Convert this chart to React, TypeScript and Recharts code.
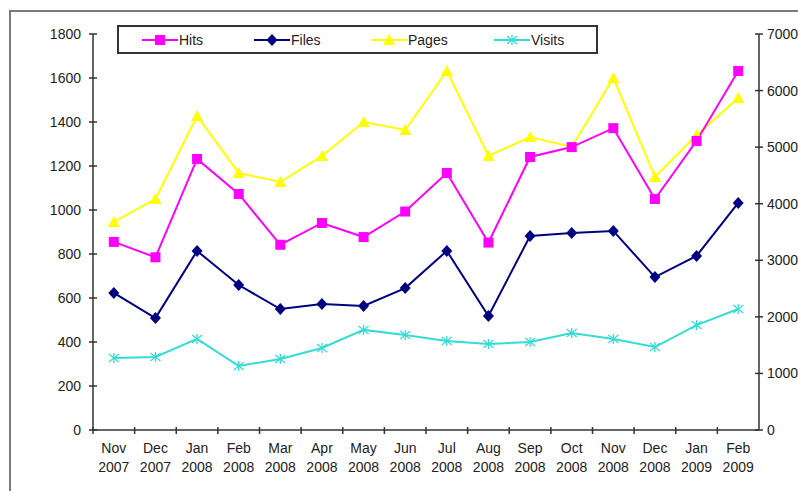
import React from "react";
import { LineChart, Line, XAxis, YAxis } from "recharts";

// monthly web stats, Nov 2007 - Feb 2009
const months = ["Nov", "Dec", "Jan", "Feb", "Mar", "Apr", "May", "Jun", "Jul", "Aug", "Sep", "Oct", "Nov", "Dec", "Jan", "Feb"];
const years = ["2007", "2007", "2008", "2008", "2008", "2008", "2008", "2008", "2008", "2008", "2008", "2008", "2008", "2008", "2009", "2009"];

const hits = [855, 785, 1232, 1073, 842, 941, 877, 993, 1168, 852, 1241, 1286, 1372, 1050, 1314, 1632];
const files = [623, 509, 814, 659, 550, 573, 564, 645, 814, 518, 882, 895, 905, 695, 791, 1032];
// pages are plotted against the right-hand axis
const pages = [3677, 4083, 5551, 4543, 4384, 4844, 5445, 5303, 6346, 4844, 5179, 5003, 6222, 4472, 5215, 5869];
const visits = [327, 332, 414, 291, 323, 373, 455, 432, 405, 391, 400, 441, 414, 377, 477, 550];

const leftTicks = [0, 200, 400, 600, 800, 1000, 1200, 1400, 1600, 1800];
const rightTicks = [0, 1000, 2000, 3000, 4000, 5000, 6000, 7000];

const data = months.map((m, i) => ({
  key: `${m} ${years[i]}`,
  month: m,
  year: years[i],
  hits: hits[i],
  files: files[i],
  pages: pages[i],
  visits: visits[i],
}));

const W = 798;
const H = 491;
const PLOT_LEFT = 93;
const PLOT_RIGHT = 759;
const PLOT_TOP = 34;
const PLOT_BOTTOM = 430;
const BAND = (PLOT_RIGHT - PLOT_LEFT) / months.length;

const FONT = "Liberation Sans, Arial, sans-serif";
const TEXT = "#222";
const AXIS = "#333";

const C_HITS = "#ff00ff";
const C_FILES = "#000080";
const C_PAGES = "#ffff00";
const C_VISITS = "#33dcd4";

const Square = ({ cx, cy, fill }: any) =>
  cx == null ? null : <rect x={cx - 5} y={cy - 5} width={10} height={10} fill={fill} />;

const Diamond = ({ cx, cy, fill }: any) =>
  cx == null ? null : (
    <polygon points={`${cx},${cy - 6} ${cx + 5.5},${cy} ${cx},${cy + 6} ${cx - 5.5},${cy}`} fill={fill} />
  );

const Triangle = ({ cx, cy, fill }: any) =>
  cx == null ? null : (
    <polygon points={`${cx},${cy - 6} ${cx + 6},${cy + 5} ${cx - 6},${cy + 5}`} fill={fill} />
  );

const Star = ({ cx, cy, stroke }: any) =>
  cx == null ? null : (
    <g stroke={stroke} strokeWidth={1.3}>
      <line x1={cx - 5} y1={cy - 4} x2={cx + 5} y2={cy + 4} />
      <line x1={cx - 5} y1={cy + 4} x2={cx + 5} y2={cy - 4} />
      <line x1={cx} y1={cy - 5} x2={cx} y2={cy + 5} />
    </g>
  );

const LeftTick = ({ x, y, payload }: any) => (
  <g>
    <line x1={x - 4} y1={y} x2={x + 4} y2={y} stroke={AXIS} strokeWidth={1.5} />
    <text x={x - 12} y={y} dy={5} textAnchor="end" fontSize={14} fontFamily={FONT} fill={TEXT}>
      {payload.value}
    </text>
  </g>
);

const RightTick = ({ x, y, payload }: any) => (
  <g>
    <line x1={x - 4} y1={y} x2={x + 4} y2={y} stroke={AXIS} strokeWidth={1.5} />
    <text x={x + 8} y={y} dy={5} textAnchor="start" fontSize={14} fontFamily={FONT} fill={TEXT}>
      {payload.value}
    </text>
  </g>
);

const MonthTick = ({ x, y, index }: any) => {
  const d = data[index];
  const bx = x - BAND / 2;
  return (
    <g>
      <line x1={bx} y1={y - 3} x2={bx} y2={y + 4} stroke={AXIS} strokeWidth={1.5} />
      <text x={x} y={y + 23} textAnchor="middle" fontSize={14} fontFamily={FONT} fill={TEXT}>
        {d.month}
      </text>
      <text x={x} y={y + 42} textAnchor="middle" fontSize={14} fontFamily={FONT} fill={TEXT}>
        {d.year}
      </text>
    </g>
  );
};

const legendItems = [
  { name: "Hits", color: C_HITS, marker: "square", left: 143 },
  { name: "Files", color: C_FILES, marker: "diamond", left: 255 },
  { name: "Pages", color: C_PAGES, marker: "triangle", left: 372 },
  { name: "Visits", color: C_VISITS, marker: "star", left: 495 },
];

// legend box sits inside the plot area, over the top of the lines
const LegendBox = () => (
  <svg width={482} height={30} style={{ position: "absolute", left: 117, top: 25 }}>
    <rect x={1} y={1} width={479} height={27} fill="#fff" stroke="#333" strokeWidth={2} />
    {legendItems.map((it) => {
      const lx = it.left - 118;
      const cx = lx + 18;
      const cy = 15;
      return (
        <g key={it.name}>
          <line x1={lx} y1={cy} x2={lx + 36} y2={cy} stroke={it.color} strokeWidth={2} />
          {it.marker === "square" && <Square cx={cx} cy={cy} fill={it.color} />}
          {it.marker === "diamond" && <Diamond cx={cx} cy={cy} fill={it.color} />}
          {it.marker === "triangle" && <Triangle cx={cx} cy={cy} fill={it.color} />}
          {it.marker === "star" && <Star cx={cx} cy={cy} stroke={it.color} />}
          <text x={lx + 37} y={cy + 5} fontSize={14} fontFamily={FONT} fill={TEXT}>
            {it.name}
          </text>
        </g>
      );
    })}
  </svg>
);

export default function App() {
  return (
    <div style={{ position: "absolute", left: 0, top: 0, width: W, height: H, overflow: "hidden", background: "#fff" }}>
      <div
        style={{
          position: "absolute",
          left: 9,
          top: 10,
          width: 900,
          height: 600,
          border: "2px solid #7a7a7a",
        }}
      />
      <div style={{ position: "absolute", left: 0, top: 0 }}>
        <LineChart
          width={W}
          height={H}
          data={data}
          margin={{ top: PLOT_TOP, right: W - PLOT_RIGHT - 39, bottom: H - PLOT_BOTTOM - 45, left: PLOT_LEFT - 60 }}
        >
          <XAxis
            dataKey="key"
            scale="band"
            interval={0}
            height={45}
            tickLine={false}
            tickSize={0}
            tickMargin={0}
            axisLine={{ stroke: AXIS, strokeWidth: 1.5 }}
            tick={<MonthTick />}
          />
          <YAxis
            yAxisId="left"
            width={60}
            domain={[0, 1800]}
            ticks={leftTicks}
            interval={0}
            tickLine={false}
            tickSize={0}
            tickMargin={0}
            axisLine={{ stroke: AXIS, strokeWidth: 1.5 }}
            tick={<LeftTick />}
          />
          <YAxis
            yAxisId="right"
            orientation="right"
            width={39}
            domain={[0, 7000]}
            ticks={rightTicks}
            interval={0}
            tickLine={false}
            tickSize={0}
            tickMargin={0}
            axisLine={{ stroke: AXIS, strokeWidth: 1.5 }}
            tick={<RightTick />}
          />
          <Line yAxisId="left" dataKey="visits" name="Visits" stroke={C_VISITS} strokeWidth={2} isAnimationActive={false} dot={<Star stroke={C_VISITS} />} />
          <Line yAxisId="left" dataKey="files" name="Files" stroke={C_FILES} strokeWidth={2} isAnimationActive={false} dot={<Diamond fill={C_FILES} />} />
          <Line yAxisId="right" dataKey="pages" name="Pages" stroke={C_PAGES} strokeWidth={2} isAnimationActive={false} dot={<Triangle fill={C_PAGES} />} />
          <Line yAxisId="left" dataKey="hits" name="Hits" stroke={C_HITS} strokeWidth={2} isAnimationActive={false} dot={<Square fill={C_HITS} />} />
        </LineChart>
      </div>
      <LegendBox />
    </div>
  );
}
